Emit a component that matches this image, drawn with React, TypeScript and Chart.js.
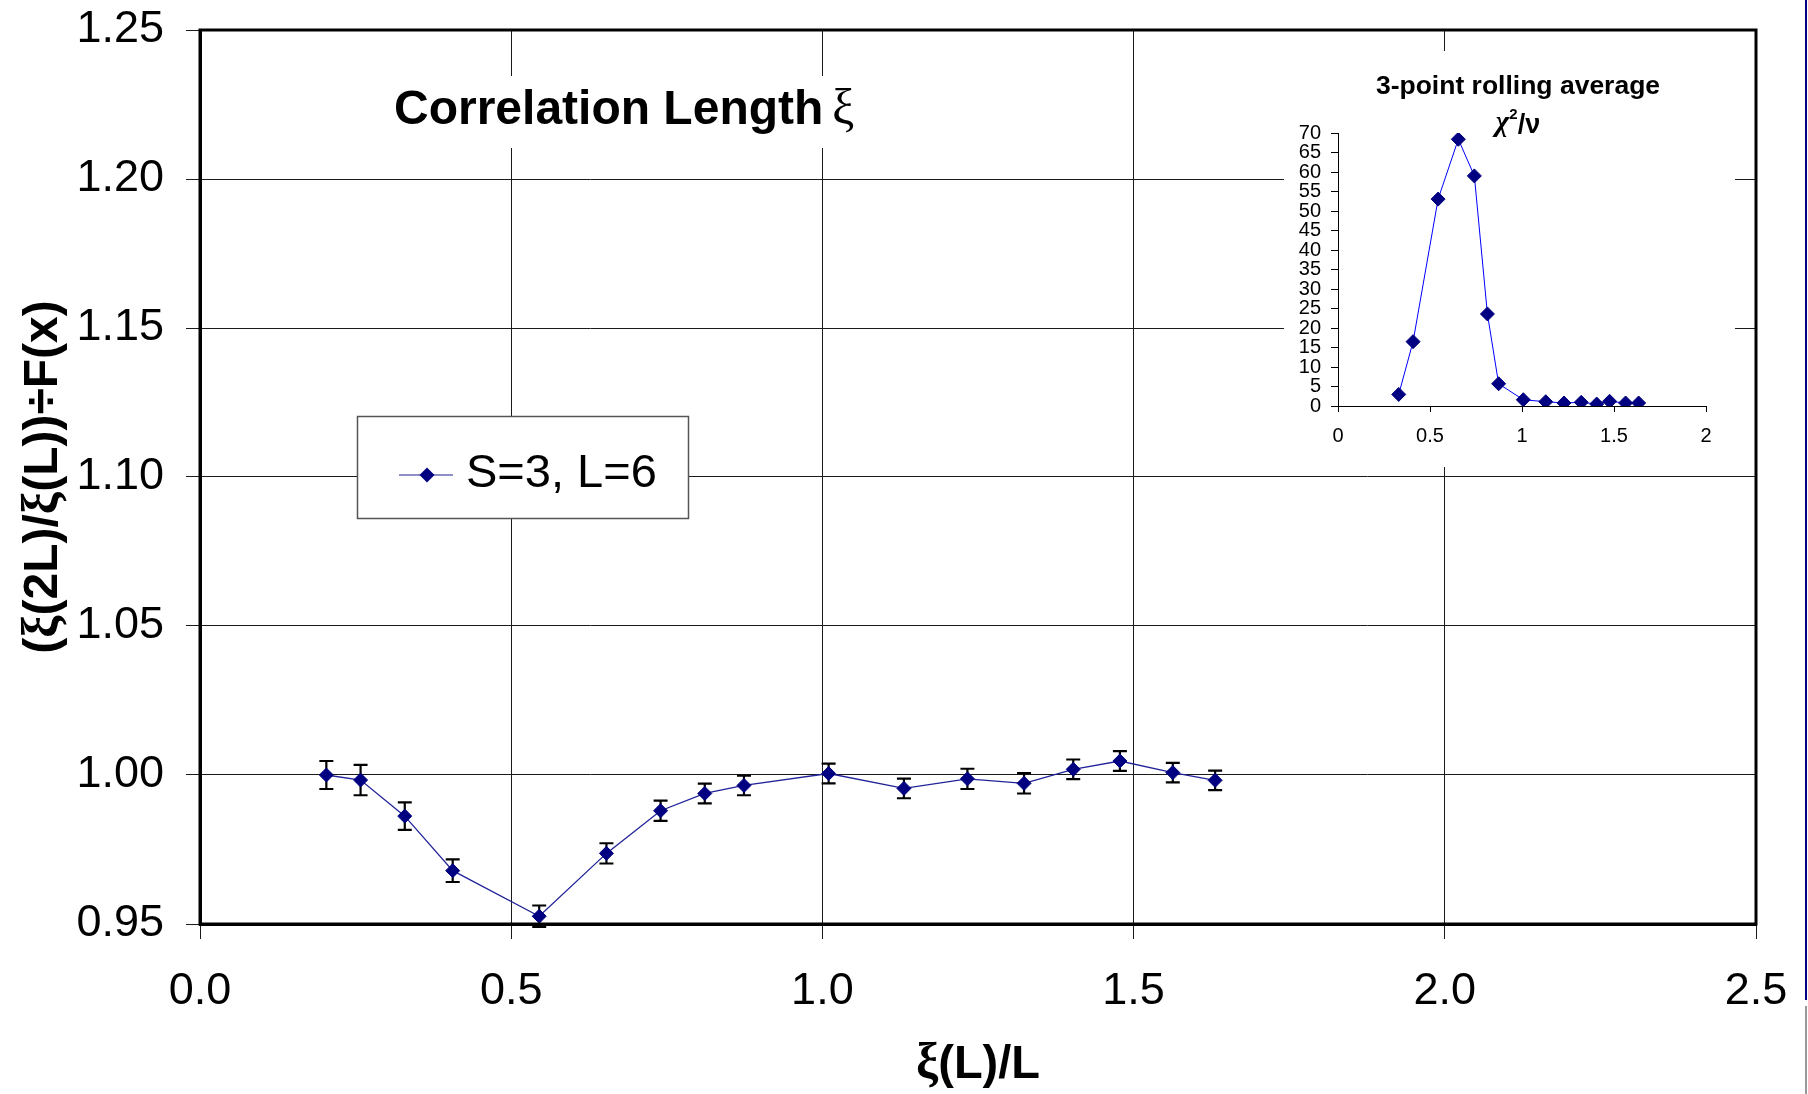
import React, { useEffect, useRef } from 'react';
import { Chart, registerables } from 'chart.js';

Chart.register(...registerables);

// ---------- data ----------
const xiOverL = [0.203, 0.258, 0.329, 0.406, 0.545, 0.653, 0.740, 0.811, 0.874, 1.010, 1.131, 1.233, 1.324, 1.403, 1.478, 1.563, 1.631];
const ratioValues = [1.0000, 0.9983, 0.9862, 0.9679, 0.9526, 0.9737, 0.9880, 0.9938, 0.9965, 1.0005, 0.9955, 0.9987, 0.9972, 1.0019, 1.0047, 1.0008, 0.9982];
const ratioErrors = [0.0047, 0.0051, 0.0046, 0.0038, 0.0036, 0.0034, 0.0034, 0.0033, 0.0033, 0.0033, 0.0033, 0.0034, 0.0034, 0.0033, 0.0033, 0.0033, 0.0033];
const seriesLabel = 'S=3, L=6';

const chiX = [0.330, 0.408, 0.544, 0.654, 0.741, 0.812, 0.873, 1.007, 1.129, 1.228, 1.322, 1.406, 1.476, 1.563, 1.634];
const chiY = [2.98, 16.5, 53.05, 68.4, 59.0, 23.6, 5.7, 1.6, 1.1, 0.77, 0.94, 0.5, 1.2, 0.77, 0.77];

const mainTitle = 'Correlation Length';
const mainTitleSymbol = 'ξ';
const insetTitle = '3-point rolling average';

const SANS = "'Liberation Sans', Arial, sans-serif";
const SERIF = "'Liberation Serif', 'DejaVu Serif', serif";
const NAVY = '#000080';

type Seg = { t: string; f: string };

function drawSegments(ctx: CanvasRenderingContext2D, segs: Seg[], cx: number, cy: number, rot: number) {
  ctx.save();
  ctx.translate(cx, cy);
  ctx.rotate(rot);
  ctx.textBaseline = 'alphabetic';
  ctx.textAlign = 'left';
  let total = 0;
  for (const s of segs) { ctx.font = s.f; total += ctx.measureText(s.t).width; }
  let x = -total / 2;
  for (const s of segs) {
    ctx.font = s.f;
    ctx.fillText(s.t, x, 0);
    x += ctx.measureText(s.t).width;
  }
  ctx.restore();
}

function diamond(ctx: CanvasRenderingContext2D, x: number, y: number, r: number) {
  ctx.beginPath();
  ctx.moveTo(x - r, y);
  ctx.lineTo(x, y - r);
  ctx.lineTo(x + r, y);
  ctx.lineTo(x, y + r);
  ctx.closePath();
  ctx.fill();
}

function zeroPadding(s: any) {
  s.paddingTop = 0;
  s.paddingBottom = 0;
  s.paddingLeft = 0;
  s.paddingRight = 0;
}

const mainDecor = {
  id: 'mainDecor',
  beforeDraw(chart: any) {
    const ctx = chart.ctx as CanvasRenderingContext2D;
    ctx.save();
    ctx.fillStyle = '#fff';
    ctx.fillRect(0, 0, chart.width, chart.height);
    ctx.restore();
  },
  beforeDatasetsDraw(chart: any) {
    const ctx = chart.ctx as CanvasRenderingContext2D;
    const xs = chart.scales.x;
    const ys = chart.scales.y;
    ctx.save();
    // title box
    ctx.fillStyle = '#fff';
    ctx.fillRect(386, 76, 486, 72);
    ctx.fillStyle = '#000';
    ctx.textBaseline = 'alphabetic';
    ctx.textAlign = 'left';
    ctx.font = `bold 48px ${SANS}`;
    ctx.fillText(mainTitle, 394, 124);
    ctx.font = `50px ${SERIF}`;
    ctx.fillText(mainTitleSymbol, 832, 124);

    // legend box
    ctx.fillStyle = '#fff';
    ctx.fillRect(357, 416, 332, 103);
    ctx.strokeStyle = '#555';
    ctx.lineWidth = 1.5;
    ctx.strokeRect(357.5, 416.5, 331, 102);
    ctx.strokeStyle = '#6a6ab4';
    ctx.lineWidth = 1.5;
    ctx.beginPath();
    ctx.moveTo(399, 475);
    ctx.lineTo(453, 475);
    ctx.stroke();
    ctx.fillStyle = NAVY;
    diamond(ctx, 427, 475, 7.5);
    ctx.fillStyle = '#000';
    ctx.font = `47px ${SANS}`;
    ctx.fillText(chart.data.datasets[0].label, 466, 487);

    // error bars
    ctx.strokeStyle = '#000';
    ctx.lineWidth = 2.2;
    for (let i = 0; i < xiOverL.length; i++) {
      const px = xs.getPixelForValue(xiOverL[i]);
      const top = ys.getPixelForValue(ratioValues[i] + ratioErrors[i]);
      const bot = ys.getPixelForValue(ratioValues[i] - ratioErrors[i]);
      ctx.beginPath();
      ctx.moveTo(px, top);
      ctx.lineTo(px, bot);
      ctx.moveTo(px - 7, top);
      ctx.lineTo(px + 7, top);
      ctx.moveTo(px - 7, bot);
      ctx.lineTo(px + 7, bot);
      ctx.stroke();
    }
    ctx.restore();
  },
  afterDraw(chart: any) {
    const ctx = chart.ctx as CanvasRenderingContext2D;
    const a = chart.chartArea;
    ctx.save();
    // frame
    ctx.strokeStyle = '#000';
    ctx.lineWidth = 3;
    ctx.strokeRect(a.left, a.top, a.right - a.left, a.bottom - a.top);
    ctx.fillStyle = '#000';
    // axis titles
    drawSegments(ctx, [
      { t: 'ξ', f: `bold 50px ${SERIF}` },
      { t: '(L)/L', f: `bold 47px ${SANS}` },
    ], (a.left + a.right) / 2, 1078, 0);
    drawSegments(ctx, [
      { t: '(', f: `bold 48px ${SANS}` },
      { t: 'ξ', f: `bold 50px ${SERIF}` },
      { t: '(2L)/', f: `bold 48px ${SANS}` },
      { t: 'ξ', f: `bold 50px ${SERIF}` },
      { t: '(L))÷F(x)', f: `bold 48px ${SANS}` },
    ], 57, (a.top + a.bottom) / 2, -Math.PI / 2);
    // window edge
    ctx.fillStyle = NAVY;
    ctx.fillRect(1805, 0, 2, 1000);
    ctx.fillStyle = '#999';
    ctx.fillRect(1805, 1006, 2, 88);
    ctx.restore();
  },
};

const insetDecor = {
  id: 'insetDecor',
  beforeDraw(chart: any) {
    const ctx = chart.ctx as CanvasRenderingContext2D;
    ctx.save();
    ctx.fillStyle = '#fff';
    ctx.fillRect(0, 0, chart.width, chart.height);
    ctx.fillStyle = '#000';
    ctx.textAlign = 'center';
    ctx.textBaseline = 'alphabetic';
    ctx.font = `bold 26.5px ${SANS}`;
    ctx.fillText(insetTitle, 234, 43);
    // chi^2/nu
    const f1 = `bold italic 29px ${SERIF}`;
    const f2 = `bold 15px ${SANS}`;
    const f3 = `bold 27px ${SANS}`;
    ctx.textAlign = 'left';
    ctx.font = f1; const w1 = ctx.measureText('χ').width;
    ctx.font = f2; const w2 = ctx.measureText('2').width;
    ctx.font = f3; const w3 = ctx.measureText('/ν').width;
    let x = 234 - (w1 + w2 + w3) / 2;
    ctx.font = f1; ctx.fillText('χ', x, 80); x += w1;
    ctx.font = f2; ctx.fillText('2', x, 68); x += w2;
    ctx.font = f3; ctx.fillText('/ν', x, 82);
    ctx.restore();
  },
};

export default function App() {
  const mainRef = useRef<HTMLCanvasElement | null>(null);
  const insetRef = useRef<HTMLCanvasElement | null>(null);

  useEffect(() => {
    if (!mainRef.current || !insetRef.current) return;
    const main = new Chart(mainRef.current, {
      type: 'scatter',
      data: {
        datasets: [{
          label: seriesLabel,
          data: xiOverL.map((x, i) => ({ x, y: ratioValues[i] })),
          showLine: true,
          borderColor: '#22229a',
          borderWidth: 1.3,
          pointStyle: 'rectRot',
          pointRadius: 7,
          pointBackgroundColor: NAVY,
          pointBorderColor: NAVY,
          pointBorderWidth: 1,
        }],
      },
      options: {
        responsive: false,
        animation: false,
        devicePixelRatio: 1,
        layout: { autoPadding: false, padding: { top: 30, right: 52, left: 0, bottom: 0 } },
        plugins: { legend: { display: false }, tooltip: { enabled: false }, title: { display: false } },
        scales: {
          x: {
            type: 'linear', min: 0, max: 2.5,
            ticks: { stepSize: 0.5, callback: (v: any) => Number(v).toFixed(1), font: { family: SANS, size: 45 }, color: '#000', padding: 26, maxRotation: 0, autoSkip: false },
            grid: { color: '#1a1a1a', lineWidth: 1, tickLength: 15 },
            border: { display: true, color: '#000', width: 3 },
            afterFit: (s: any) => { s.height = 170; zeroPadding(s); },
          },
          y: {
            type: 'linear', min: 0.95, max: 1.25,
            ticks: { stepSize: 0.05, callback: (v: any) => Number(v).toFixed(2), font: { family: SANS, size: 45 }, color: '#000', padding: 22, autoSkip: false },
            grid: { color: '#1a1a1a', lineWidth: 1, tickLength: 14 },
            border: { display: true, color: '#000', width: 3 },
            afterFit: (s: any) => { s.width = 200; zeroPadding(s); },
          },
        },
      },
      plugins: [mainDecor],
    } as any);

    const inset = new Chart(insetRef.current, {
      type: 'scatter',
      data: {
        datasets: [{
          label: 'chi2/nu',
          data: chiX.map((x, i) => ({ x, y: chiY[i] })),
          showLine: true,
          borderColor: '#0000ff',
          borderWidth: 1,
          pointStyle: 'rectRot',
          pointRadius: 7,
          pointBackgroundColor: NAVY,
          pointBorderColor: NAVY,
          pointBorderWidth: 1,
        }],
      },
      options: {
        responsive: false,
        animation: false,
        devicePixelRatio: 1,
        layout: { autoPadding: false, padding: { top: 82, right: 29, left: 0, bottom: 0 } },
        plugins: { legend: { display: false }, tooltip: { enabled: false }, title: { display: false } },
        scales: {
          x: {
            type: 'linear', min: 0, max: 2,
            ticks: { stepSize: 0.5, callback: (v: any) => String(Number(v)), font: { family: SANS, size: 20 }, color: '#000', padding: 12, maxRotation: 0, autoSkip: false },
            grid: { drawOnChartArea: false, color: '#000', lineWidth: 1, tickLength: 6 },
            border: { display: true, color: '#000', width: 1 },
            afterFit: (s: any) => { s.height = 61; zeroPadding(s); },
          },
          y: {
            type: 'linear', min: 0, max: 70,
            ticks: { stepSize: 5, font: { family: SANS, size: 20 }, color: '#000', padding: 10, autoSkip: false },
            grid: { drawOnChartArea: false, color: '#000', lineWidth: 1, tickLength: 7 },
            border: { display: true, color: '#000', width: 1 },
            afterFit: (s: any) => { s.width = 54; zeroPadding(s); },
          },
        },
      },
      plugins: [insetDecor],
    } as any);

    return () => { main.destroy(); inset.destroy(); };
  }, []);

  return (
    <div style={{ position: 'absolute', left: 0, top: 0, width: 1808, height: 1094, background: '#fff', overflow: 'hidden' }}>
      <canvas ref={mainRef} width={1808} height={1094} style={{ position: 'absolute', left: 0, top: 0, width: 1808, height: 1094 }} />
      <canvas ref={insetRef} width={451} height={416} style={{ position: 'absolute', left: 1284, top: 51, width: 451, height: 416 }} />
    </div>
  );
}
